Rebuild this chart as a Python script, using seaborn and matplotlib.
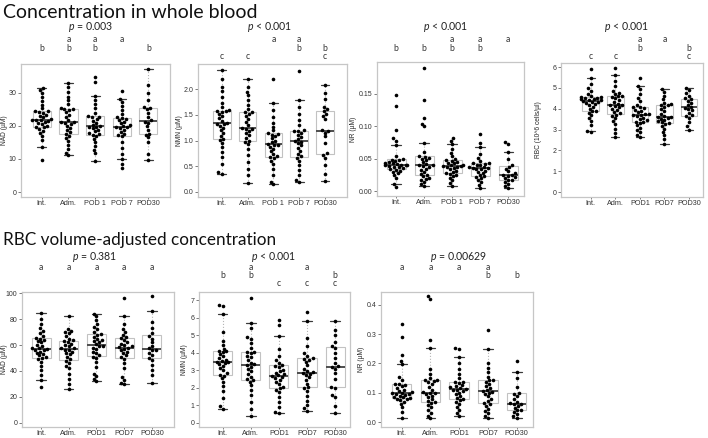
import numpy as np
import pandas as pd
import matplotlib
matplotlib.use("Agg")
import matplotlib.pyplot as plt
import seaborn as sns
from matplotlib.transforms import blended_transform_factory

sns.set_style("white")
plt.rcParams["font.family"] = ["Liberation Sans", "DejaVu Sans"]
plt.rcParams["mathtext.fontset"] = "custom"
plt.rcParams["mathtext.it"] = "Lato:italic"
plt.rcParams["mathtext.rm"] = "Lato"

# ---------------- categories ----------------
cats_sp = ["Int.", "Adm.", "POD 1", "POD 7", "POD30"]
cats = ["Int.", "Adm.", "POD1", "POD7", "POD30"]

# ---------------- whole blood: NAD (uM) ----------------
nad_wb_int = [9.8, 13.5, 15.8, 16.9, 17.8, 18.5, 19.1, 19.5, 19.6, 20.0, 20.4, 20.8, 21.1, 21.4, 21.6, 21.7,
              21.8, 22.1, 22.5, 22.9, 23.3, 23.7, 24.0, 24.3, 24.4, 25.2, 26.3, 27.4, 28.6, 29.8, 30.7, 31.3]
nad_wb_adm = [11.2, 11.9, 13.0, 14.2, 15.3, 16.2, 17.0, 17.5, 18.0, 18.7, 19.4, 20.0, 20.5, 20.8, 21.0,
              21.1, 21.8, 22.6, 23.3, 24.0, 24.6, 25.0, 25.0, 25.4, 26.5, 27.6, 28.8, 30.2, 31.6, 32.8]
nad_wb_pod1 = [9.3, 11.8, 12.8, 13.9, 15.0, 16.0, 16.8, 17.3, 17.4, 17.8, 18.3, 18.8, 19.2, 19.5, 19.7,
               19.9, 20.3, 20.9, 21.5, 22.0, 22.5, 22.7, 22.8, 23.9, 25.2, 26.4, 27.6, 29.0, 33.2, 34.8]
nad_wb_pod7 = [7.2, 8.3, 10.0, 11.5, 13.2, 15.0, 16.8, 17.1, 17.6, 18.2, 18.8, 19.2, 19.5, 19.6, 19.8,
               20.2, 20.7, 21.2, 21.7, 22.1, 22.3, 22.5, 23.4, 24.6, 25.8, 27.0, 28.0, 30.4]
nad_wb_pod30 = [9.6, 11.4, 15.2, 16.5, 17.3, 17.6, 18.8, 19.8, 20.9, 21.2, 21.6, 22.5, 23.9, 24.9, 25.3,
                25.6, 27.8, 30.0, 32.3, 37.0]

# ---------------- whole blood: NMN (uM) ----------------
nmn_wb_int = [0.35, 0.38, 0.55, 0.68, 0.78, 0.87, 0.95, 1.01, 1.03, 1.08, 1.14, 1.20, 1.25, 1.29, 1.32, 1.33,
              1.35, 1.38, 1.43, 1.48, 1.52, 1.55, 1.57, 1.58, 1.59, 1.66, 1.74, 1.85, 1.96, 2.05, 2.20, 2.38]
nmn_wb_adm = [0.18, 0.33, 0.45, 0.58, 0.72, 0.84, 0.93, 0.98, 1.00, 1.05, 1.10, 1.15, 1.19, 1.22, 1.23,
              1.25, 1.30, 1.36, 1.42, 1.48, 1.52, 1.55, 1.56, 1.62, 1.70, 1.78, 1.88, 1.95, 2.05, 2.20]
nmn_wb_pod1 = [0.15, 0.20, 0.32, 0.45, 0.55, 0.61, 0.66, 0.68, 0.70, 0.74, 0.79, 0.84, 0.88, 0.91, 0.92,
               0.94, 0.97, 1.00, 1.04, 1.08, 1.11, 1.13, 1.14, 1.20, 1.27, 1.35, 1.45, 1.60, 1.74, 2.20]
nmn_wb_pod7 = [0.20, 0.24, 0.33, 0.42, 0.52, 0.60, 0.66, 0.69, 0.74, 0.80, 0.86, 0.91, 0.95, 0.98, 1.00,
               1.03, 1.07, 1.11, 1.15, 1.18, 1.19, 1.20, 1.30, 1.40, 1.52, 1.65, 1.78, 2.36]
nmn_wb_pod30 = [0.22, 0.35, 0.52, 0.66, 0.72, 0.75, 0.95, 1.08, 1.15, 1.18, 1.20, 1.42, 1.48, 1.52, 1.57,
                1.61, 1.66, 1.80, 1.93, 2.08]

# ---------------- whole blood: NR (uM) ----------------
nr_wb_int = [0.007, 0.012, 0.020, 0.025, 0.028, 0.030, 0.032, 0.033, 0.034, 0.036, 0.037, 0.038, 0.039, 0.040,
             0.040, 0.041, 0.041, 0.042, 0.043, 0.044, 0.045, 0.047, 0.048, 0.049, 0.050, 0.055, 0.072, 0.078,
             0.082, 0.095, 0.132, 0.148]
nr_wb_adm = [0.008, 0.011, 0.014, 0.017, 0.019, 0.021, 0.023, 0.025, 0.027, 0.030, 0.033, 0.035, 0.037, 0.039,
             0.040, 0.040, 0.042, 0.045, 0.048, 0.050, 0.052, 0.053, 0.054, 0.060, 0.074, 0.100, 0.104, 0.113,
             0.140, 0.190]
nr_wb_pod1 = [0.009, 0.013, 0.017, 0.021, 0.024, 0.026, 0.027, 0.028, 0.030, 0.032, 0.034, 0.036, 0.037, 0.038,
              0.039, 0.039, 0.040, 0.041, 0.043, 0.044, 0.046, 0.047, 0.048, 0.050, 0.054, 0.059, 0.065, 0.073,
              0.078, 0.082]
nr_wb_pod7 = [0.005, 0.010, 0.014, 0.017, 0.020, 0.022, 0.023, 0.025, 0.028, 0.030, 0.032, 0.034, 0.035, 0.036,
              0.036, 0.037, 0.038, 0.040, 0.041, 0.042, 0.043, 0.044, 0.047, 0.051, 0.058, 0.068, 0.075, 0.088]
nr_wb_pod30 = [0.005, 0.008, 0.011, 0.014, 0.017, 0.018, 0.020, 0.022, 0.024, 0.025, 0.026, 0.028, 0.031,
               0.035, 0.038, 0.040, 0.050, 0.060, 0.073, 0.076]

# ---------------- RBC (10^6 cells/ul) ----------------
rbc_int = [2.90, 2.95, 3.20, 3.40, 3.55, 3.68, 3.80, 3.87, 3.90, 4.00, 4.10, 4.18, 4.24, 4.29, 4.32, 4.34,
           4.36, 4.40, 4.43, 4.46, 4.49, 4.52, 4.54, 4.55, 4.56, 4.62, 4.72, 4.85, 4.98, 5.20, 5.50, 5.90]
rbc_adm = [2.62, 2.85, 3.05, 3.25, 3.40, 3.55, 3.66, 3.72, 3.78, 3.85, 3.93, 4.00, 4.07, 4.12, 4.16,
           4.18, 4.25, 4.33, 4.42, 4.50, 4.56, 4.60, 4.62, 4.70, 4.78, 4.85, 5.10, 5.35, 5.60, 5.95]
rbc_pod1 = [2.65, 2.75, 2.90, 3.00, 3.10, 3.20, 3.30, 3.35, 3.38, 3.45, 3.52, 3.58, 3.64, 3.68, 3.71,
            3.73, 3.77, 3.83, 3.90, 3.96, 4.02, 4.07, 4.08, 4.20, 4.35, 4.50, 4.70, 4.95, 5.10, 5.50]
rbc_pod7 = [2.30, 2.55, 2.75, 2.90, 3.05, 3.18, 3.28, 3.31, 3.36, 3.42, 3.48, 3.53, 3.57, 3.59, 3.61,
            3.66, 3.75, 3.88, 3.98, 4.10, 4.17, 4.18, 4.22, 4.30, 4.45, 4.62, 4.80, 4.93]
rbc_pod30 = [3.00, 3.15, 3.35, 3.55, 3.64, 3.68, 3.80, 3.92, 4.00, 4.06, 4.10, 4.18, 4.28, 4.38, 4.46,
             4.50, 4.62, 4.75, 4.88, 4.98]

# ---------------- RBC volume-adjusted: NAD (uM) ----------------
nad_rbc_int = [28, 33, 37, 41, 44, 47, 49, 50, 50.5, 52, 53, 54, 55, 56, 56.5, 57, 57.5, 58, 59, 60, 62, 63,
               64, 65, 65.5, 67, 69, 71, 73, 76, 80, 85]
nad_rbc_adm = [26, 30, 34, 38, 42, 44, 46, 48, 49, 51, 53, 54, 55, 56, 56.5, 57.5, 58, 59, 60, 61, 62, 63,
               63.5, 65, 67, 69, 70, 71, 72, 82]
nad_rbc_pod1 = [32, 34, 36, 38, 43, 47, 50, 51, 52, 54, 55, 57, 58, 59, 59.5, 60.5, 62, 63, 64, 65, 66.5,
                68, 68.5, 70, 72, 74, 76, 79, 82, 84]
nad_rbc_pod7 = [30, 31, 33, 35, 42, 46, 49.5, 50.5, 52, 54, 55, 56, 57, 57.5, 58.5, 59, 60, 61, 62, 64,
                65.5, 66.5, 68, 70, 72, 76, 82, 96]
nad_rbc_pod30 = [31, 37, 41, 45, 48.5, 50, 52, 54, 56, 56.5, 57.5, 59, 62, 65, 67, 69, 73, 78, 86, 98]

# ---------------- RBC volume-adjusted: NMN (uM) ----------------
nmn_rbc_int = [0.80, 0.95, 1.40, 1.80, 2.10, 2.35, 2.55, 2.69, 2.72, 2.85, 3.00, 3.12, 3.25, 3.35, 3.42,
               3.46, 3.50, 3.55, 3.62, 3.70, 3.80, 3.92, 4.05, 4.11, 4.13, 4.25, 4.45, 4.70, 5.20, 6.20,
               6.70, 6.75]
nmn_rbc_adm = [0.42, 0.80, 1.20, 1.60, 1.90, 2.15, 2.35, 2.43, 2.50, 2.65, 2.80, 2.95, 3.10, 3.22, 3.30,
               3.34, 3.45, 3.60, 3.75, 3.85, 3.98, 4.05, 4.07, 4.30, 4.55, 4.80, 4.90, 5.40, 5.70, 7.15]
nmn_rbc_pod1 = [0.55, 0.60, 0.90, 1.20, 1.50, 1.75, 1.90, 1.97, 2.05, 2.20, 2.35, 2.45, 2.55, 2.62, 2.68,
                2.72, 2.80, 2.88, 2.95, 3.05, 3.18, 3.27, 3.30, 3.45, 3.60, 3.85, 4.20, 4.95, 5.60, 5.90]
nmn_rbc_pod7 = [0.70, 0.85, 1.00, 1.25, 1.55, 1.85, 2.00, 2.04, 2.25, 2.45, 2.60, 2.72, 2.80, 2.85, 2.89,
                2.95, 3.10, 3.30, 3.50, 3.62, 3.68, 3.70, 3.85, 4.00, 4.40, 4.85, 5.80, 6.35]
nmn_rbc_pod30 = [0.55, 0.95, 1.50, 1.60, 2.02, 2.08, 2.50, 2.85, 3.10, 3.20, 3.25, 3.45, 3.70, 4.00, 4.30,
                 4.40, 4.65, 5.05, 5.30, 5.85]

# ---------------- RBC volume-adjusted: NR (uM) ----------------
nr_rbc_int = [0.015, 0.035, 0.050, 0.062, 0.070, 0.075, 0.078, 0.080, 0.081, 0.084, 0.087, 0.090, 0.093,
              0.095, 0.097, 0.098, 0.099, 0.102, 0.106, 0.110, 0.116, 0.122, 0.127, 0.130, 0.131, 0.145,
              0.155, 0.198, 0.210, 0.230, 0.290, 0.335]
nr_rbc_adm = [0.013, 0.022, 0.030, 0.040, 0.050, 0.058, 0.064, 0.068, 0.072, 0.078, 0.085, 0.090, 0.095,
              0.098, 0.099, 0.101, 0.110, 0.120, 0.130, 0.136, 0.140, 0.143, 0.144, 0.150, 0.165, 0.180,
              0.252, 0.280, 0.420, 0.430]
nr_rbc_pod1 = [0.020, 0.030, 0.040, 0.050, 0.060, 0.068, 0.074, 0.078, 0.082, 0.088, 0.094, 0.100, 0.105,
               0.109, 0.111, 0.113, 0.116, 0.119, 0.122, 0.126, 0.132, 0.137, 0.138, 0.150, 0.165, 0.180,
               0.200, 0.222, 0.250, 0.252]
nr_rbc_pod7 = [0.013, 0.022, 0.030, 0.038, 0.045, 0.055, 0.061, 0.064, 0.072, 0.080, 0.088, 0.095, 0.100,
               0.104, 0.106, 0.110, 0.115, 0.122, 0.130, 0.138, 0.143, 0.145, 0.155, 0.170, 0.185, 0.200,
               0.248, 0.313]
nr_rbc_pod30 = [0.015, 0.020, 0.028, 0.035, 0.040, 0.042, 0.048, 0.055, 0.060, 0.062, 0.064, 0.070, 0.080,
                0.090, 0.097, 0.100, 0.120, 0.150, 0.170, 0.210]

# ---------------- annotations ----------------
titles = ["Concentration in whole blood", "RBC volume-adjusted concentration"]
p_texts = ["= 0.003", "< 0.001", "< 0.001", "< 0.001", "= 0.381", "< 0.001", "= 0.00629"]
letters_nad_wb = ["b", "ab", "ab", "a", "b"]
letters_nmn_wb = ["c", "c", "a", "ab", "bc"]
letters_nr_wb = ["b", "b", "ab", "ab", "a"]
letters_rbc = ["c", "c", "ab", "a", "bc"]
letters_nad_rbc = ["a", "a", "a", "a", "a"]
letters_nmn_rbc = ["b", "ab", "c", "ac", "bc"]
letters_nr_rbc = ["a", "a", "a", "ab", "b"]

W, H = 708, 438
fig = plt.figure(figsize=(W / 100, H / 100), dpi=100)
fig.patch.set_facecolor("white")


def panel(rect_px, cat_names, groups, ylabel, ylabel_x, yticks, yfmt, ylim, xlim, ptext, p_xy, letters, rows):
    l, r, t, b = rect_px
    ax = fig.add_axes([l / W, 1 - b / H, (r - l) / W, (b - t) / H])
    df = pd.DataFrame({
        "group": np.repeat(cat_names, [len(g) for g in groups]),
        "value": np.concatenate([np.asarray(g, float) for g in groups]),
    })
    sns.boxplot(data=df, x="group", y="value", order=cat_names, ax=ax, width=0.68, whis=1.5,
                showfliers=False, color="white", linecolor="#c2c2c2", linewidth=0.8,
                medianprops=dict(color="#4d4d4d", linewidth=1.4),
                whiskerprops=dict(color="#b5b5b5", linestyle=":", linewidth=0.8),
                capprops=dict(color="#3a3a3a", linewidth=0.9))
    sns.swarmplot(data=df, x="group", y="value", order=cat_names, ax=ax, color="black",
                  size=2.6, linewidth=0, zorder=3, warn_thresh=1)
    ax.set_xlim(*xlim)
    ax.set_ylim(*ylim)
    ax.set_yticks(yticks)
    ax.set_yticklabels([yfmt.format(v) for v in yticks])
    ax.set_xlabel("")
    ax.set_ylabel(ylabel, fontsize=4.8)
    ax.yaxis.set_label_coords((ylabel_x - l) / (r - l), 0.5)
    for s in ax.spines.values():
        s.set_color("#c6c6c6")
        s.set_linewidth(0.9)
    ax.tick_params(axis="y", left=True, length=2.0, width=0.6, color="#666666",
                   labelsize=5.0, pad=1.2, labelcolor="#333333")
    ax.tick_params(axis="x", bottom=True, length=1.5, width=0.6, color="#666666",
                   labelsize=5.2, pad=0.9, labelcolor="#333333")
    fig.text(p_xy[0] / W, 1 - p_xy[1] / H, r"$p$ " + ptext, ha="center", va="center",
             fontsize=7.6, family="Lato", color="#222222")
    tr = blended_transform_factory(ax.transData, fig.transFigure)
    for i, s in enumerate(letters):
        for ch in s:
            ax.text(i, 1 - rows[ch] / H, ch, transform=tr, ha="center", va="center",
                    fontsize=6.2, family="Lato", color="#333333", clip_on=False)
    return ax


top_rows = {"a": 40, "b": 48.3, "c": 56.7}
bot_rows = {"a": 268, "b": 276, "c": 284}

panel((21, 170, 64, 197), cats_sp, [nad_wb_int, nad_wb_adm, nad_wb_pod1, nad_wb_pod7, nad_wb_pod30],
      "NAD (µM)", 8.5, [0, 10, 20, 30], "{:g}", (-1.5, 38.6), (-0.78, 4.81), p_texts[0], (91, 27),
      letters_nad_wb, top_rows)
panel((198, 347, 64, 197), cats_sp, [nmn_wb_int, nmn_wb_adm, nmn_wb_pod1, nmn_wb_pod7, nmn_wb_pod30],
      "NMN (µM)", 183, [0.0, 0.5, 1.0, 1.5, 2.0], "{:.1f}", (-0.1, 2.49), (-0.92, 4.85), p_texts[1], (270, 27),
      letters_nmn_wb, top_rows)
panel((377, 524, 62, 196), cats_sp, [nr_wb_int, nr_wb_adm, nr_wb_pod1, nr_wb_pod7, nr_wb_pod30],
      "NR (µM)", 357, [0.0, 0.05, 0.10, 0.15], "{:.2f}", (-0.007, 0.199), (-0.68, 4.56), p_texts[2], (446, 27),
      letters_nr_wb, top_rows)
panel((561, 703, 63, 197), cats, [rbc_int, rbc_adm, rbc_pod1, rbc_pod7, rbc_pod30],
      "RBC (10^6 cells/µl)", 542, [0, 1, 2, 3, 4, 5, 6], "{:g}", (-0.24, 6.2), (-1.21, 4.57), p_texts[3],
      (627, 27), letters_rbc, top_rows)
panel((22, 174, 292, 427), cats, [nad_rbc_int, nad_rbc_adm, nad_rbc_pod1, nad_rbc_pod7, nad_rbc_pod30],
      "NAD (µM)", 8.5, [0, 20, 40, 60, 80, 100], "{:g}", (-3.1, 100.8), (-0.69, 4.8), p_texts[4], (95, 257),
      letters_nad_rbc, bot_rows)
panel((199, 350, 292, 427), cats, [nmn_rbc_int, nmn_rbc_adm, nmn_rbc_pod1, nmn_rbc_pod7, nmn_rbc_pod30],
      "NMN (µM)", 188, [0, 1, 2, 3, 4, 5, 6, 7], "{:g}", (-0.23, 7.48), (-0.84, 4.53), p_texts[5], (274, 257),
      letters_nmn_rbc, bot_rows)
panel((381, 533, 292, 427), cats, [nr_rbc_int, nr_rbc_adm, nr_rbc_pod1, nr_rbc_pod7, nr_rbc_pod30],
      "NR (µM)", 365, [0.0, 0.1, 0.2, 0.3, 0.4], "{:.1f}", (-0.017, 0.444), (-0.72, 4.57), p_texts[6], (459, 257),
      letters_nr_rbc, bot_rows)

fig.text(3 / W, 1 - 13 / H, titles[0], ha="left", va="center", fontsize=14.0, family="Lato", color="#111111")
fig.text(3 / W, 1 - 240 / H, titles[1], ha="left", va="center", fontsize=12.3, family="Lato", color="#111111")

fig.savefig("out.png", dpi=100, facecolor="white")
